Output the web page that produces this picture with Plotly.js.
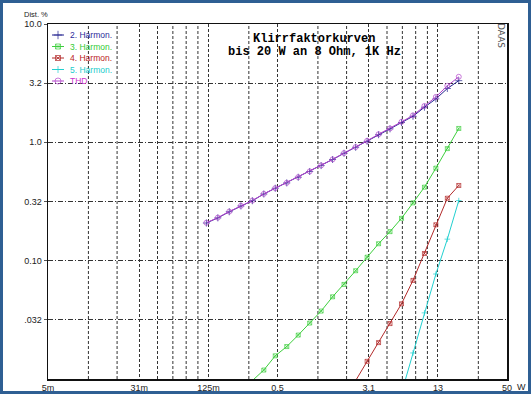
<!DOCTYPE html>
<html>
<head>
<meta charset="utf-8">
<script src="https://cdn.plot.ly/plotly-3.0.1.min.js"></script>
<style>html,body{margin:0;padding:0;background:#fff;}#chart{width:531px;height:394px;}</style>
</head>
<body>
<div id="chart"></div>
<script>
// ---- data ----
const powerW = [0.120, 0.151, 0.190, 0.240, 0.302, 0.380, 0.478, 0.602, 0.758, 0.954, 1.20, 1.51, 1.90, 2.40, 3.02, 3.80, 4.78, 6.02, 7.58, 9.54, 12.0, 15.1, 19.0];
const harm2 = [0.208, 0.230, 0.259, 0.290, 0.321, 0.366, 0.409, 0.454, 0.507, 0.567, 0.636, 0.716, 0.808, 0.908, 1.02, 1.16, 1.30, 1.47, 1.66, 1.98, 2.33, 2.85, 3.32];
const harm3 = [null, null, null, null, 0.0097, 0.0119, 0.0157, 0.0188, 0.0235, 0.0297, 0.0375, 0.0495, 0.0630, 0.0822, 0.107, 0.139, 0.176, 0.228, 0.308, 0.418, 0.605, 0.885, 1.31];
const harm4 = [null, null, null, null, null, null, null, null, null, null, null, null, null, 0.0097, 0.0141, 0.0203, 0.0294, 0.0432, 0.0681, 0.115, 0.201, 0.337, 0.432];
const harm5 = [null, null, null, null, null, null, null, null, null, null, null, null, null, null, null, null, null, 0.0076, 0.0166, 0.0362, 0.0771, 0.152, 0.322];
const thd   = [0.209, 0.231, 0.260, 0.291, 0.322, 0.367, 0.410, 0.455, 0.508, 0.568, 0.638, 0.718, 0.811, 0.912, 1.03, 1.17, 1.31, 1.49, 1.69, 2.03, 2.42, 3.00, 3.58];

const seriesNames = ['2. Harmon.', '3. Harmon.', '4. Harmon.', '5. Harmon.', 'THD'];
const xTickVals = [0.005, 0.03125, 0.125, 0.5, 3.125, 12.5, 50];
const xTickText = ['5m', '31m', '125m', '0.5', '3.1', '13', '50'];
const xGridVals = [0.01125, 0.02, 0.045, 0.06125, 0.08, 0.10125, 0.28125, 1.125, 2, 4.5, 6.125, 8, 10.125, 28.125];
const yTickVals = [0.0316, 0.1, 0.316, 1, 3.16, 10];
const yTickText = ['.032', '0.10', '0.32', '1.0', '3.2', '10.0'];
const titleLines = ['Klirrfaktorkurven', 'bis 20 W an 8 Ohm, 1K Hz'];

// ---- layout geometry ----
const W = 531, H = 394;
const M = {l: 48, r: 24, t: 24, b: 15};
const PW = W - M.l - M.r, PH = H - M.t - M.b;
const px = x => (x - M.l) / PW;
const py = y => 1 - (y - M.t) / PH;

const colors = ['#23238f', '#3ecf3e', '#b22a2a', '#22d0d0', '#b444cc'];
const textColors = ['#2c2c9a', '#33cc33', '#bb2222', '#22cccc', '#cc33cc'];
const symbols = ['cross-thin-open', 'square-x-open', 'square-x-open', 'cross-thin-open', 'circle-open'];
const sizes = [5, 4, 4, 4, 5];
const allY = [harm2, harm3, harm4, harm5, thd];

const traces = allY.map((ys, i) => ({
  type: 'scatter', mode: 'lines+markers', x: powerW, y: ys, name: seriesNames[i],
  line: {color: colors[i], width: 1},
  marker: {symbol: symbols[i], color: colors[i], size: ys.map(v => (v !== null && v < 0.01) ? 0 : sizes[i]), line: {color: colors[i], width: 1}},
  showlegend: false, connectgaps: false, hoverinfo: 'skip'
}));

// custom compact legend on an overlay axis (fractions of plot area)
const legY0 = 35, legStep = 11.5;
seriesNames.forEach((n, i) => {
  const yy = py(legY0 + i * legStep);
  traces.push({
    type: 'scatter', mode: 'lines+markers', xaxis: 'x2', yaxis: 'y2',
    x: [px(52), px(58), px(64)], y: [yy, yy, yy],
    line: {color: colors[i], width: 1},
    marker: {symbol: symbols[i], color: colors[i], size: [0, sizes[i] + 1, 0], line: {color: colors[i], width: 1}},
    showlegend: false, hoverinfo: 'skip'
  });
});

const annotations = [];
seriesNames.forEach((n, i) => {
  annotations.push({xref: 'paper', yref: 'paper', x: px(68), y: py(legY0 + i * legStep), xanchor: 'left', yanchor: 'middle',
    text: n, showarrow: false, font: {family: 'Liberation Sans, Arial', size: 8.5, color: textColors[i]}});
});
titleLines.forEach((t, i) => {
  annotations.push({xref: 'paper', yref: 'paper', x: px(314), y: py(39 + i * 13.3), xanchor: 'center', yanchor: 'middle',
    text: '<b>' + t + '</b>', showarrow: false, font: {family: 'Liberation Mono, Courier New, monospace', size: 12, color: '#000'}});
});
annotations.push({xref: 'paper', yref: 'paper', x: px(36), y: py(14), xanchor: 'center', yanchor: 'middle',
  text: 'Dist. %', showarrow: false, font: {family: 'Liberation Sans, Arial', size: 7.5, color: '#222'}});
annotations.push({xref: 'paper', yref: 'paper', x: px(521), y: py(387), xanchor: 'center', yanchor: 'middle',
  text: 'W', showarrow: false, font: {family: 'Liberation Sans, Arial', size: 9, color: '#222'}});
annotations.push({xref: 'paper', yref: 'paper', x: px(501), y: py(35), xanchor: 'center', yanchor: 'middle', textangle: 90,
  text: 'DAAS', showarrow: false, font: {family: 'DejaVu Sans, Liberation Sans', size: 9, color: '#555'}});

const shapes = xGridVals.map(v => ({type: 'line', xref: 'x', yref: 'paper', x0: v, x1: v, y0: 0, y1: 1,
  line: {color: '#333', width: 1, dash: '3px,2px'}, layer: 'below'}));
shapes.push({type: 'rect', xref: 'paper', yref: 'paper', x0: px(1.5), x1: px(529.5), y0: py(1.5), y1: py(392.5),
  line: {color: '#2f5f93', width: 3}, fillcolor: 'rgba(0,0,0,0)'});

const layout = {
  width: W, height: H, margin: M, paper_bgcolor: '#fff', plot_bgcolor: '#fff', showlegend: false,
  font: {family: 'Liberation Sans, Arial', size: 9, color: '#222'},
  xaxis: {type: 'log', range: [Math.log10(0.005), Math.log10(50)], tickmode: 'array', tickvals: xTickVals, ticktext: xTickText,
    showgrid: true, gridcolor: '#333', gridwidth: 1, griddash: '3px,2px', showline: true, mirror: true, linecolor: '#111', linewidth: 1.5,
    ticks: '', zeroline: false, automargin: false, tickfont: {size: 9, color: '#222'}},
  yaxis: {type: 'log', range: [-2, 1], tickmode: 'array', tickvals: yTickVals, ticktext: yTickText,
    showgrid: true, gridcolor: '#333', gridwidth: 1, griddash: '5px,2px,1px,2px', showline: true, mirror: true, linecolor: '#111', linewidth: 1.5,
    ticks: 'outside', ticklen: 3, tickcolor: '#555', zeroline: false, automargin: false, tickfont: {size: 9, color: '#222'}},
  xaxis2: {overlaying: 'x', range: [0, 1], visible: false, fixedrange: true},
  yaxis2: {overlaying: 'y', range: [0, 1], visible: false, fixedrange: true},
  annotations: annotations, shapes: shapes
};

Plotly.newPlot('chart', traces, layout, {staticPlot: true, displayModeBar: false});
</script>
</body>
</html>
